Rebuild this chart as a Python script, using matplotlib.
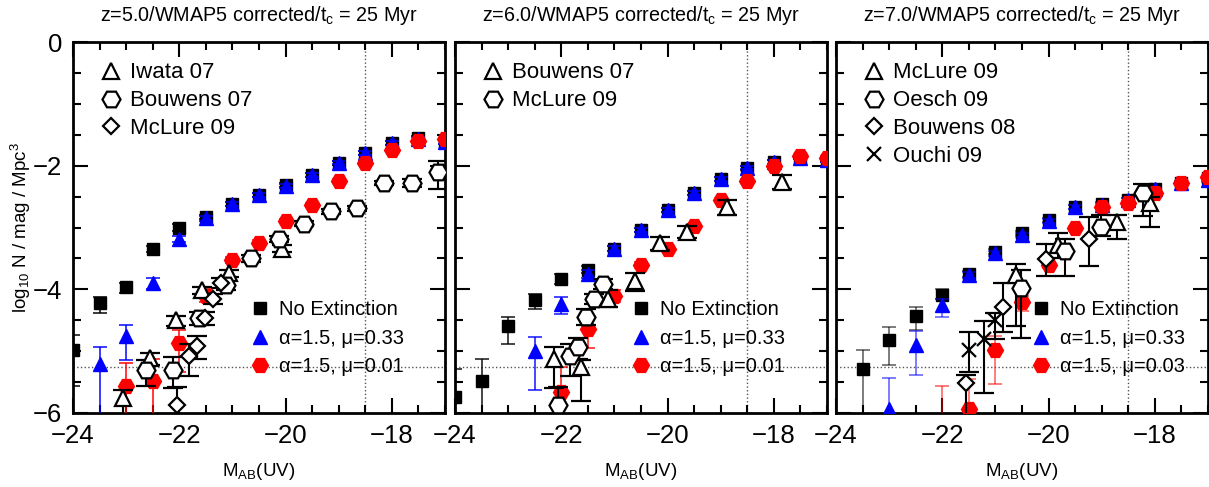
#!/usr/bin/env python3
"""
UV luminosity functions at z=5, 6, 7: model curves vs. observations.
"""

import numpy as np
import matplotlib
matplotlib.use('Agg')
import matplotlib.pyplot as plt
from matplotlib.ticker import MultipleLocator

plt.rcParams['font.family'] = ['Liberation Sans', 'DejaVu Sans']
plt.rcParams['mathtext.fontset'] = 'custom'
plt.rcParams['mathtext.rm'] = 'Liberation Sans'
plt.rcParams['mathtext.it'] = 'Liberation Sans:italic'
plt.rcParams['mathtext.bf'] = 'Liberation Sans:bold'

nan = np.nan

# magnitude bins of the model luminosity functions
mag = [-24.0, -23.5, -23.0, -22.5, -22.0, -21.5, -21.0, -20.5,
       -20.0, -19.5, -19.0, -18.5, -18.0, -17.5, -17.0]

# ---------------- z = 5 ----------------
noext5 = [-4.98, -4.22, -3.97, -3.35, -3.00, -2.83, -2.62, -2.48, -2.31, -2.15, -1.96, -1.79, -1.63, -1.55, -1.62]
noext5_em = [0.59, 0.17, 0.09, 0.05, 0.05, 0.04, 0.03, 0.03, 0.03, 0.03, 0.03, 0.03, 0.03, 0.03, 0.03]
noext5_ep = [0.24, 0.10, 0.07, 0.05, 0.05, 0.04, 0.03, 0.03, 0.03, 0.03, 0.03, 0.03, 0.03, 0.03, 0.03]
dust5 = [nan, -5.20, -4.75, -3.90, -3.19, -2.85, -2.62, -2.48, -2.33, -2.15, -1.95, -1.79, -1.63, -1.57, -1.62]
dust5_em = [0, 1.00, 0.39, 0.10, 0.05, 0.04, 0.03, 0.03, 0.03, 0.03, 0.03, 0.03, 0.03, 0.03, 0.03]
dust5_ep = [0, 0.27, 0.17, 0.09, 0.05, 0.04, 0.03, 0.03, 0.03, 0.03, 0.03, 0.03, 0.03, 0.03, 0.03]
mu5 = [nan, nan, -5.56, -5.49, -4.87, -4.10, -3.53, -3.25, -2.89, -2.63, -2.24, -1.96, -1.75, -1.60, -1.57]
mu5_em = [0, 0, 1.00, 1.00, 0.46, 0.10, 0.05, 0.04, 0.03, 0.03, 0.03, 0.02, 0.02, 0.02, 0.02]
mu5_ep = [0, 0, 0.37, 0.36, 0.21, 0.10, 0.05, 0.04, 0.03, 0.03, 0.03, 0.02, 0.02, 0.02, 0.02]

iwata07_x = [-23.06, -22.56, -22.07, -21.57, -21.07, -20.07]
iwata07_y = [-5.76, -5.11, -4.50, -4.01, -3.74, -3.34]
iwata07_em = [0.60, 0.12, 0.09, 0.06, 0.06, 0.05]
iwata07_ep = [0.14, 0.08, 0.07, 0.05, 0.05, 0.05]

bouwens07z5_x = [-22.63, -22.12, -21.63, -21.12, -20.65, -20.13, -19.65, -19.15, -18.65, -18.15, -17.63, -17.13]
bouwens07z5_y = [-5.30, -5.30, -4.47, -3.93, -3.50, -3.19, -2.94, -2.74, -2.69, -2.28, -2.28, -2.10]
bouwens07z5_em = [0.27, 0.30, 0.10, 0.08, 0.06, 0.05, 0.04, 0.04, 0.04, 0.04, 0.06, 0.28]
bouwens07z5_ep = [0.16, 0.21, 0.10, 0.08, 0.06, 0.05, 0.04, 0.04, 0.04, 0.04, 0.06, 0.18]

mclure09z5_x = [-22.05, -21.82, -21.67, -21.52, -21.37, -21.21]
mclure09z5_y = [-5.87, -5.08, -4.92, -4.47, -4.16, -3.90]
mclure09z5_em = [0.60, 0.32, 0.20, 0.10, 0.08, 0.08]
mclure09z5_ep = [0.29, 0.20, 0.17, 0.10, 0.08, 0.08]

# ---------------- z = 6 ----------------
noext6 = [-5.74, -5.48, -4.60, -4.18, -3.84, -3.68, -3.34, -3.04, -2.72, -2.44, -2.22, -2.04, -1.94, -1.87, -1.91]
noext6_em = [0.60, 1.00, 0.28, 0.14, 0.07, 0.05, 0.04, 0.03, 0.03, 0.03, 0.03, 0.03, 0.03, 0.03, 0.03]
noext6_ep = [0.45, 0.36, 0.16, 0.10, 0.08, 0.05, 0.04, 0.03, 0.03, 0.03, 0.03, 0.03, 0.03, 0.03, 0.03]
dust6 = [nan, nan, nan, -4.99, -4.23, -3.75, -3.34, -3.04, -2.72, -2.44, -2.21, -2.03, -1.94, -1.87, -1.91]
dust6_em = [0, 0, 0, 0.63, 0.17, 0.06, 0.04, 0.03, 0.03, 0.03, 0.03, 0.03, 0.03, 0.03, 0.03]
dust6_ep = [0, 0, 0, 0.22, 0.10, 0.06, 0.04, 0.03, 0.03, 0.03, 0.03, 0.03, 0.03, 0.03, 0.03]
mu6 = [nan, nan, nan, nan, -5.66, -4.64, -4.11, -3.61, -3.34, -2.98, -2.56, -2.25, -2.01, -1.85, -1.87]
mu6_em = [0, 0, 0, 0, 0.80, 0.31, 0.10, 0.05, 0.04, 0.03, 0.03, 0.03, 0.02, 0.02, 0.02]
mu6_ep = [0, 0, 0, 0, 0.41, 0.20, 0.10, 0.05, 0.04, 0.03, 0.03, 0.03, 0.02, 0.02, 0.02]

bouwens07z6_x = [-22.14, -21.62, -21.12, -20.61, -20.14, -19.64, -18.88, -17.85]
bouwens07z6_y = [-5.12, -5.26, -4.15, -3.86, -3.25, -3.07, -2.67, -2.26]
bouwens07z6_em = [0.48, 0.54, 0.14, 0.17, 0.11, 0.10, 0.13, 0.12]
bouwens07z6_ep = [0.18, 0.12, 0.14, 0.12, 0.10, 0.10, 0.11, 0.11]

mclure09z6_x = [-22.06, -21.83, -21.68, -21.54, -21.39, -21.22]
mclure09z6_y = [-5.87, -5.08, -4.93, -4.45, -4.16, -3.92]
mclure09z6_em = [0.60, 0.32, 0.20, 0.13, 0.08, 0.08]
mclure09z6_ep = [0.29, 0.20, 0.15, 0.13, 0.08, 0.08]

# ---------------- z = 7 ----------------
noext7 = [nan, -5.29, -4.82, -4.43, -4.09, -3.75, -3.39, -3.09, -2.88, -2.67, -2.62, -2.55, -2.37, -2.28, -2.20]
noext7_em = [0, 0.80, 0.40, 0.22, 0.06, 0.05, 0.04, 0.03, 0.03, 0.03, 0.03, 0.03, 0.03, 0.03, 0.03]
noext7_ep = [0, 0.31, 0.21, 0.14, 0.10, 0.05, 0.04, 0.03, 0.03, 0.03, 0.03, 0.03, 0.03, 0.03, 0.03]
dust7 = [nan, nan, -5.93, -4.90, -4.25, -3.77, -3.42, -3.12, -2.89, -2.67, -2.64, -2.55, -2.38, -2.28, -2.23]
dust7_em = [0, 0, 0.60, 0.49, 0.20, 0.05, 0.04, 0.03, 0.03, 0.03, 0.03, 0.03, 0.03, 0.03, 0.03]
dust7_ep = [0, 0, 0.49, 0.23, 0.09, 0.05, 0.04, 0.03, 0.03, 0.03, 0.03, 0.03, 0.03, 0.03, 0.03]
mu7 = [nan, nan, nan, nan, -6.30, -5.93, -4.98, -4.20, -3.61, -3.01, -2.67, -2.60, -2.44, -2.28, -2.18]
mu7_em = [0, 0, 0, 0, 0.50, 0.50, 0.55, 0.15, 0.05, 0.04, 0.03, 0.03, 0.03, 0.02, 0.02]
mu7_ep = [0, 0, 0, 0, 0.74, 0.48, 0.23, 0.10, 0.05, 0.04, 0.03, 0.03, 0.03, 0.02, 0.02]

mclure09z7_x = [-20.61, -19.82, -18.72, -18.10]
mclure09z7_y = [-3.77, -3.28, -2.91, -2.61]
mclure09z7_em = [0.82, 0.22, 0.28, 0.38]
mclure09z7_ep = [0.18, 0.19, 0.11, 0.10]

oesch09_x = [-20.51, -19.70, -19.01, -18.22]
oesch09_y = [-3.98, -3.38, -2.99, -2.44]
oesch09_em = [0.81, 0.40, 0.15, 0.37]
oesch09_ep = [0.29, 0.20, 0.20, 0.14]

bouwens08_x = [-21.55, -20.85, -20.04, -19.24]
bouwens08_y = [-5.51, -4.29, -3.51, -3.19]
bouwens08_em = [0.60, 0.40, 0.27, 0.44]
bouwens08_ep = [0.12, 0.39, 0.25, 0.36]

ouchi09_x = [-21.50, -21.22, -21.01]
ouchi09_y = [-4.98, -4.81, -4.50]
ouchi09_em = [0.35, 0.87, 0.31]
ouchi09_ep = [0.29, 0.30, 0.12]

# completeness limits (dotted guide lines)
mag_limit = -18.5
density_limit = -5.26

# open-symbol styles for the observational samples
OBS_STYLE = {
    'tri': dict(marker='^', ms=11),
    'hex': dict(marker='H', ms=13),
    'dia': dict(marker='D', ms=8.5),
    'x': dict(marker='x', ms=10),
}

panels = [
    dict(title='z=5.0/WMAP5 corrected/t$_{\\rm c}$ = 25 Myr',
         models=[(noext5, noext5_em, noext5_ep), (dust5, dust5_em, dust5_ep), (mu5, mu5_em, mu5_ep)],
         mu_label='\u03b1=1.5, \u03bc=0.01',
         obs=[('Iwata 07', 'tri', iwata07_x, iwata07_y, iwata07_em, iwata07_ep),
              ('Bouwens 07', 'hex', bouwens07z5_x, bouwens07z5_y, bouwens07z5_em, bouwens07z5_ep),
              ('McLure 09', 'dia', mclure09z5_x, mclure09z5_y, mclure09z5_em, mclure09z5_ep)],
         left=73, low_leg_x=0.4745, ealpha=0.9),
    dict(title='z=6.0/WMAP5 corrected/t$_{\\rm c}$ = 25 Myr',
         models=[(noext6, noext6_em, noext6_ep), (dust6, dust6_em, dust6_ep), (mu6, mu6_em, mu6_ep)],
         mu_label='\u03b1=1.5, \u03bc=0.01',
         obs=[('Bouwens 07', 'tri', bouwens07z6_x, bouwens07z6_y, bouwens07z6_em, bouwens07z6_ep),
              ('McLure 09', 'hex', mclure09z6_x, mclure09z6_y, mclure09z6_em, mclure09z6_ep)],
         left=455, low_leg_x=0.472, ealpha=0.85),
    dict(title='z=7.0/WMAP5 corrected/t$_{\\rm c}$ = 25 Myr',
         models=[(noext7, noext7_em, noext7_ep), (dust7, dust7_em, dust7_ep), (mu7, mu7_em, mu7_ep)],
         mu_label='\u03b1=1.5, \u03bc=0.03',
         obs=[('McLure 09', 'tri', mclure09z7_x, mclure09z7_y, mclure09z7_em, mclure09z7_ep),
              ('Oesch 09', 'hex', oesch09_x, oesch09_y, oesch09_em, oesch09_ep),
              ('Bouwens 08', 'dia', bouwens08_x, bouwens08_y, bouwens08_em, bouwens08_ep),
              ('Ouchi 09', 'x', ouchi09_x, ouchi09_y, ouchi09_em, ouchi09_ep)],
         left=836, low_leg_x=0.523, ealpha=0.6),
]

MODEL_STYLE = [
    dict(marker='s', ms=8.5, color='black', label='No Extinction'),
    dict(marker='^', ms=10, color='#0000ff', label='\u03b1=1.5, \u03bc=0.33'),
    dict(marker='H', ms=11.5, color='#ff0000', label=None),
]

W, H = 1209, 487


def draw_panel(fig, p, first):
    ax = fig.add_axes([p['left'] / W, (H - 413) / H, 372 / W, 371 / H])
    ax.set_xlim(-24, -17)
    ax.set_ylim(-6, 0)

    ax.axhline(density_limit, ls=':', color='#555555', lw=1.0, zorder=1)
    ax.axvline(mag_limit, ls=':', color='#555555', lw=1.0, zorder=1)

    model_handles = []
    for i, ((y, em, ep), st) in enumerate(zip(p['models'], MODEL_STYLE)):
        cont = ax.errorbar(mag, y, yerr=[em, ep], fmt=st['marker'], ms=st['ms'],
                           color=st['color'], mec=st['color'], ecolor=st['color'],
                           elinewidth=1.2, capsize=5, capthick=1.2, zorder=3 + i)
        for art in list(cont[1]) + list(cont[2]):
            art.set_alpha(p['ealpha'])
        model_handles.append(cont[0])

    obs_handles = []
    for label, kind, x, y, em, ep in p['obs']:
        st = OBS_STYLE[kind]
        mfc = 'white' if kind != 'x' else 'black'
        cont = ax.errorbar(x, y, yerr=[em, ep], fmt=st['marker'], ms=st['ms'],
                           mfc=mfc, mec='black', mew=1.6, color='black',
                           ecolor='black', elinewidth=1.5, capsize=7, capthick=1.5,
                           zorder=7)
        obs_handles.append(cont[0])

    leg1 = ax.legend(obs_handles, [o[0] for o in p['obs']], loc='upper left',
                     bbox_to_anchor=(0.073, 0.945), frameon=False, fontsize=16,
                     borderpad=0, borderaxespad=0, handlelength=1.0,
                     handletextpad=0.36, labelspacing=0.31)
    ax.add_artist(leg1)
    labels = [MODEL_STYLE[0]['label'], MODEL_STYLE[1]['label'], p['mu_label']]
    ax.legend(model_handles, labels, loc='lower left',
              bbox_to_anchor=(p['low_leg_x'], 0.099), frameon=False, fontsize=14.5,
              borderpad=0, borderaxespad=0, handlelength=1.0,
              handletextpad=0.45, labelspacing=0.48)

    ax.set_title(p['title'], fontsize=14.2, pad=15)

    ax.xaxis.set_major_locator(MultipleLocator(2))
    ax.xaxis.set_minor_locator(MultipleLocator(0.5))
    ax.yaxis.set_major_locator(MultipleLocator(2))
    ax.yaxis.set_minor_locator(MultipleLocator(0.5))
    ax.tick_params(which='both', direction='in', top=True, right=True, width=1.5)
    ax.tick_params(which='major', length=11, labelsize=18.5, pad=8)
    ax.tick_params(which='minor', length=6)
    if not first:
        ax.tick_params(labelleft=False)
    else:
        ax.set_ylabel('log$_{10}$ N / mag / Mpc$^3$', fontsize=13.5)
        ax.yaxis.set_label_coords(-0.108, 0.5)

    ax.set_xlabel('M$_{\\rm AB}$(UV)', fontsize=13.5)
    ax.xaxis.set_label_coords(0.5, -0.13)

    for sp in ax.spines.values():
        sp.set_linewidth(2)
    return ax


def main():
    fig = plt.figure(figsize=(W / 100, H / 100), dpi=100)
    for i, p in enumerate(panels):
        draw_panel(fig, p, i == 0)
    fig.savefig('out.png', dpi=100)


if __name__ == '__main__':
    main()
